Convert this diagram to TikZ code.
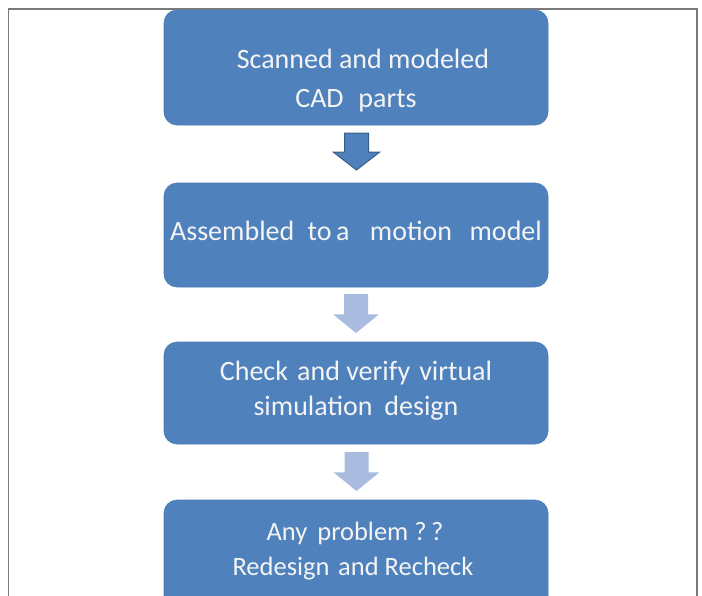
\documentclass[tikz,border=0pt]{standalone}
\usepackage{fontspec}
\setmainfont{Carlito}
\usetikzlibrary{calc}
\definecolor{boxblue}{HTML}{4F81BD}
\definecolor{boxedge}{HTML}{4A7AB4}
\definecolor{arrdark}{HTML}{4F81BD}
\definecolor{arredge}{HTML}{385D8A}
\definecolor{arrlight}{HTML}{A9BCE0}
\definecolor{txt}{HTML}{F4F4F4}
\definecolor{frame}{HTML}{7A7A7A}
\tikzset{
  x=1pt,y=-1pt,
  stepbox/.style={rectangle, rounded corners=13pt, fill=boxblue, draw=boxedge, line width=0.6pt, inner sep=0pt},
  lbl/.style={text=txt, font=\fontsize{28}{35}\selectfont, inner sep=0pt, anchor=base},
  lblsmall/.style={lbl, font=\fontsize{26.5}{33}\selectfont},
  darkarrow/.style={fill=arrdark, draw=arredge, line width=1pt, line join=miter},
  lightarrow/.style={fill=arrlight, draw=none},
}
\newcommand{\blockarrow}[4]{% style, center x, top y, tip y
  \pgfmathsetmacro{\axl}{#2-12}\pgfmathsetmacro{\axr}{#2+12}%
  \pgfmathsetmacro{\ahl}{#2-23}\pgfmathsetmacro{\ahr}{#2+23}%
  \pgfmathsetmacro{\ahy}{#3+0.52*(#4-#3)}%
  \path[#1] (\axl,#3) -- (\axr,#3) -- (\axr,\ahy) -- (\ahr,\ahy)
    -- (#2,#4) -- (\ahl,\ahy) -- (\axl,\ahy) -- cycle;}
\begin{document}
\begin{tikzpicture}
\useasboundingbox (0,0) rectangle (702,595);
\clip (0,0) rectangle (702,595);
% frame
\draw[frame, line width=1.4pt] (8.5,620) -- (8.5,9) -- (697,9) -- (697,620);
% boxes
\node[stepbox, minimum width=384pt, minimum height=115pt] (b1) at (356,67.5) {};
\node[stepbox, minimum width=384pt, minimum height=104pt] (b2) at (356,235) {};
\node[stepbox, minimum width=384pt, minimum height=102pt] (b3) at (356,393) {};
\node[stepbox, minimum width=384pt, minimum height=140pt] (b4) at (356,570) {};
% labels
\node[lbl] (t1a) at (363,68) {Scanned and modeled};
\node[lbl] (t1b) at (356,107) {CAD\hspace{0.3em} parts};
\node[lbl] (t2) at (356,240) {Assembled\hspace{0.25em} to\,a\hspace{0.5em} motion\hspace{0.4em} model};
\node[lbl] (t3a) at (356,380) {Check\hspace{0.1em} and verify\hspace{0.1em} virtual};
\node[lbl] (t3b) at (356,415) {simulation\hspace{0.2em} design};
\node[lblsmall] (t4a) at (355,540) {Any\hspace{0.15em} problem ?\,?};
\node[lblsmall] (t4b) at (353,575) {Redesign\hspace{0.1em} and Recheck};
% arrows
\blockarrow{darkarrow}{356.5}{133}{170}
\blockarrow{lightarrow}{356}{294}{333}
\blockarrow{lightarrow}{356.5}{452}{491}
\end{tikzpicture}
\end{document}
